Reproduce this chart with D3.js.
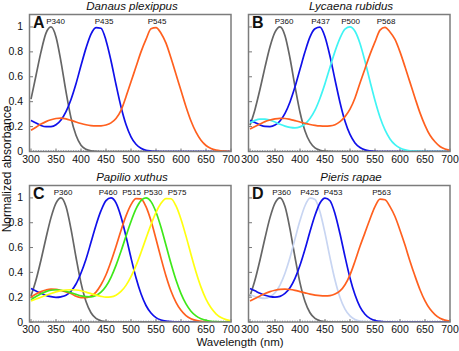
<!DOCTYPE html>
<html>
<head>
<meta charset="utf-8">
<script src="https://cdn.jsdelivr.net/npm/d3@7"></script>
<style>
  body { margin: 0; background: #fff; }
  svg { display: block; }
  text { font-family: "Liberation Sans", Arial, Helvetica, sans-serif; fill: #111; }
</style>
</head>
<body>
<script>
// wavelength grid (nm) shared by every absorbance series
const wavelengths = [300, 310, 320, 330, 340, 350, 360, 370, 380, 390,
  400, 410, 420, 430, 440, 450, 460, 470, 480, 490,
  500, 510, 520, 530, 540, 550, 560, 570, 580, 590,
  600, 610, 620, 630, 640, 650, 660, 670, 680, 690, 700]

// Danaus plexippus
const p340 = [.42, .61, .80, .95, 1, .92, .72, .48, .27, .13,
  .05, .018, .005, .001, 0, 0, 0, 0, 0, 0,
  0, 0, 0, 0, 0, 0, 0, 0, 0, 0,
  0, 0, 0, 0, 0, 0, 0, 0, 0, 0, 0]
const p435 = [.25, .229, .209, .199, .2, .215, .253, .32, .418, .544,
  .69, .83, .943, .995, .99, .892, .729, .538, .359, .216,
  .118, .058, .026, .01, .004, .001, 0, 0, 0, 0,
  0, 0, 0, 0, 0, 0, 0, 0, 0, 0, 0]
const p545 = [.17, .195, .22, .24, .255, .265, .268, .262, .25, .237,
  .225, .215, .208, .205, .206, .213, .23, .265, .33, .44,
  .56, .68, .80, .90, .985, .995, .95, .87, .75, .62,
  .49, .36, .245, .155, .09, .048, .024, .011, .005, .002, 0]

// Lycaena rubidus
const p360 = [.21, .338, .5, .677, .841, .958, 1, .93, .749, .522,
  .315, .165, .075, .029, .01, .003, .001, 0, 0, 0,
  0, 0, 0, 0, 0, 0, 0, 0, 0, 0,
  0, 0, 0, 0, 0, 0, 0, 0, 0, 0, 0]
const p437 = [.25, .233, .213, .201, .2, .212, .245, .306, .398, .519,
  .66, .80, .92, .985, .998, .92, .765, .576, .394, .243,
  .137, .069, .032, .013, .005, .0015, 0, 0, 0, 0,
  0, 0, 0, 0, 0, 0, 0, 0, 0, 0, 0]
const p500 = [.23, .25, .26, .26, .251, .237, .219, .204, .194, .19,
  .198, .221, .265, .332, .428, .545, .677, .804, .91, .983,
  1, .965, .867, .724, .564, .409, .275, .173, .101, .055,
  .028, .013, .0057, .0024, .0009, 0, 0, 0, 0, 0, 0]
const p568 = [.18, .20, .22, .24, .253, .262, .266, .265, .258, .248,
  .237, .226, .217, .21, .205, .203, .205, .215, .24, .28,
  .34, .43, .55, .665, .78, .88, .975, .997, .96, .90,
  .80, .68, .555, .43, .31, .21, .13, .078, .04, .02, .01]

// Papilio xuthus
const p460 = [.27, .25, .232, .214, .204, .199, .203, .215, .248, .306,
  .395, .506, .642, .78, .897, .978, 1, .96, .848, .69,
  .517, .356, .227, .133, .072, .035, .016, .0068, .0026, .001,
  0, 0, 0, 0, 0, 0, 0, 0, 0, 0, 0]
const p515 = [.20, .225, .245, .258, .265, .263, .254, .242, .229, .207,
  .197, .196, .209, .241, .30, .381, .488, .609, .738, .855,
  .946, .994, .992, .929, .815, .669, .515, .371, .25, .159,
  .094, .052, .027, .013, .006, .0025, .001, 0, 0, 0, 0]
const p530 = [.18, .205, .228, .245, .256, .26, .256, .248, .236, .223,
  .211, .204, .203, .213, .24, .288, .36, .456, .57, .692,
  .81, .911, .978, 1, .97, .886, .763, .618, .471, .338,
  .229, .146, .087, .049, .026, .013, .006, .0025, .001, 0, 0]
const p575 = [.17, .185, .2, .215, .23, .243, .253, .258, .26, .258,
  .252, .241, .229, .217, .207, .201, .203, .216, .246, .295,
  .365, .454, .56, .674, .785, .884, .957, .995, .993, .935,
  .828, .692, .544, .403, .281, .184, .114, .066, .036, .019, .009]

// Pieris rapae
const p425 = [.222, .206, .195, .191, .203, .236, .298, .393, .519, .67,
  .817, .937, .998, .987, .886, .716, .519, .338, .198, .104,
  .049, .021, .008, .003, .001, 0, 0, 0, 0, 0,
  0, 0, 0, 0, 0, 0, 0, 0, 0, 0, 0]
const p453 = [.27, .251, .232, .216, .205, .201, .207, .23, .276, .352,
  .457, .586, .729, .86, .959, .999, .977, .873, .711, .527,
  .355, .219, .122, .0625, .029, .012, .0047, .0017, .0005, 0,
  0, 0, 0, 0, 0, 0, 0, 0, 0, 0, 0]
const p563 = [.17, .19, .21, .23, .245, .256, .263, .265, .262, .255,
  .245, .235, .225, .217, .212, .21, .213, .225, .25, .30,
  .38, .49, .61, .72, .83, .93, .99, .985, .93, .85,
  .74, .62, .49, .37, .26, .17, .104, .06, .03, .015, .007]

const species = ['Danaus plexippus', 'Lycaena rubidus', 'Papilio xuthus', 'Pieris rapae']
const letters = ['A', 'B', 'C', 'D']
const xTicks = [300, 350, 400, 450, 500, 550, 600, 650, 700]
const yTicks = [0, 0.2, 0.4, 0.6, 0.8, 1]

const width = 459
const height = 351
const col = {
  uv: '#666666', blue: '#1010ea', orange: '#ff601f', cyan: '#40f4f4',
  green: '#3ee81a', yellow: '#ffff10', pale: '#c8d5f2'
}

// [label, values, colour, label nudge in px]
const panels = [
  { left: 31, top: 14.5, bottom: 151.5, yLabels: true,
    series: [['P340', p340, col.uv, 4.5], ['P435', p435, col.blue, 5.5], ['P545', p545, col.orange, 3.5]] },
  { left: 250, top: 14.5, bottom: 151.5, yLabels: false,
    series: [['P360', p360, col.uv, 4], ['P437', p437, col.blue, 2], ['P500', p500, col.cyan, 0.5], ['P568', p568, col.orange, 2]] },
  { left: 31, top: 185.5, bottom: 322, yLabels: true,
    series: [['P360', p360, col.uv, 2], ['P460', p460, col.blue, -3], ['P515', p515, col.orange, -7], ['P530', p530, col.green, 7], ['P575', p575, col.yellow, 8.5]] },
  { left: 250, top: 185.5, bottom: 322, yLabels: false,
    series: [['P360', p360, col.uv, 1.5], ['P425', p425, col.pale, -3], ['P453', p453, col.blue, 6.5], ['P563', p563, col.orange, 0]] }
]

const svg = d3.select('body').append('svg')
  .attr('width', width)
  .attr('height', height)

panels.forEach((p, i) => {
  const x = d3.scaleLinear().domain([300, 700]).range([p.left, p.left + 200])
  const y = d3.scaleLinear().domain([0, 1.1]).range([p.bottom, p.top])
  const g = svg.append('g')

  g.append('clipPath').attr('id', 'clip' + i)
    .append('rect')
      .attr('x', p.left - 1).attr('y', p.top)
      .attr('width', 201).attr('height', p.bottom - p.top)

  // minor ticks along the floor give the dotted look
  g.selectAll('.minor')
    .data(d3.range(305, 700, 5))
    .enter().append('line')
      .attr('x1', d => x(d)).attr('x2', d => x(d))
      .attr('y1', p.bottom).attr('y2', p.bottom - 1.5)
      .style('stroke', '#8a96a8')
      .style('stroke-width', 0.8)

  g.selectAll('.xt')
    .data(xTicks)
    .enter().append('line')
      .attr('x1', d => x(d)).attr('x2', d => x(d))
      .attr('y1', p.bottom).attr('y2', p.bottom - 3)
      .style('stroke', '#777')

  g.selectAll('.yt')
    .data(yTicks)
    .enter().append('line')
      .attr('x1', p.left - 1).attr('x2', p.left + 2)
      .attr('y1', d => y(d)).attr('y2', d => y(d))
      .style('stroke', '#777')

  const line = d3.line()
    .x((d, j) => x(wavelengths[j]))
    .y(d => y(d))
    .curve(d3.curveMonotoneX)

  g.selectAll('.curve')
    .data(p.series)
    .enter().append('path')
      .attr('d', d => line(d[1]))
      .attr('clip-path', `url(#clip${i})`)
      .style('fill', 'none')
      .style('stroke', d => d[2])
      .style('stroke-width', 1.7)

  g.selectAll('.peak')
    .data(p.series)
    .enter().append('text')
      .attr('x', d => x(+d[0].slice(1)) + d[3])
      .attr('y', y(1) - 2.5)
      .attr('text-anchor', 'middle')
      .style('font-size', '8px')
      .text(d => d[0])

  g.append('rect')
    .attr('x', p.left - 1.5).attr('y', p.top)
    .attr('width', 201.5).attr('height', p.bottom - p.top)
    .style('fill', 'none')
    .style('stroke', '#7c7c7c')
    .style('stroke-width', 1.5)

  g.append('text')
    .attr('x', p.left + 2).attr('y', p.top + 13.5)
    .style('font-size', '16px')
    .style('font-weight', 700)
    .text(letters[i])

  g.append('text')
    .attr('x', p.left + 101).attr('y', p.top - 4.5)
    .attr('text-anchor', 'middle')
    .style('font-size', '11.5px')
    .style('font-style', 'italic')
    .text(species[i])

  g.selectAll('.xl')
    .data(xTicks)
    .enter().append('text')
      .attr('x', d => x(d))
      .attr('y', p.bottom + 11)
      .attr('text-anchor', 'middle')
      .style('font-size', '10.5px')
      .text(d => d)

  if (p.yLabels) {
    g.selectAll('.yl')
      .data(yTicks)
      .enter().append('text')
        .attr('x', p.left - 8)
        .attr('y', d => y(d) + 3.5)
        .attr('text-anchor', 'end')
        .style('font-size', '10.5px')
        .text(d => d)
  }
})

svg.append('text')
  .attr('x', 240).attr('y', 346)
  .attr('text-anchor', 'middle')
  .style('font-size', '11.5px')
  .text('Wavelength (nm)')

svg.append('text')
  .attr('transform', 'translate(11, 169) rotate(-90)')
  .attr('text-anchor', 'middle')
  .style('font-size', '12px')
  .text('Normalized absorbance')
</script>
</body>
</html>
